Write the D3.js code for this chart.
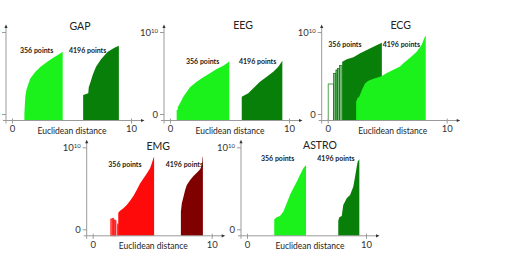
<!DOCTYPE html>
<html>
<head>
<meta charset="utf-8">
<script src="https://cdn.jsdelivr.net/npm/d3@7.9.0/dist/d3.min.js"></script>
<style>
  body { margin: 0; background: #fff; }
  svg { display: block; font-family: Lato, "Open Sans", sans-serif; }
</style>
</head>
<body>
<svg id="chart" width="510" height="258"></svg>
<script>
// [euclidean distance, value (x1e9)]
const gap356 = [[1.04,0],[1.08,1.2],[1.12,2.1],[1.21,2.93],[1.38,3.7],[1.55,4.35],[1.97,5.16],[2.40,5.77],[2.97,6.38],[3.53,6.91],[3.95,7.28],[4.26,7.6]];
const gap4196 = [[5.98,2.32],[6.41,2.52],[6.45,3.26],[6.58,3.82],[6.78,4.76],[7.06,5.77],[7.48,6.67],[8.05,7.6],[8.61,8.09],[8.98,8.33]];

const eeg356 = [[0.56,0.49],[0.64,0.49],[0.66,0.85],[0.84,1.3],[1.12,2.11],[1.68,3.26],[2.24,3.94],[2.80,4.48],[3.36,4.96],[3.92,5.49],[4.48,5.89],[4.90,6.3],[4.98,6.46]];
const eeg4196 = [[6.03,2.11],[6.30,2.32],[6.58,2.52],[7.0,3.13],[7.56,3.94],[8.13,4.55],[8.68,5.16],[9.10,5.77],[9.30,6.18],[9.44,6.5]];

// isolated first points: [from, to, value]
const ecg356Bars = [[0.04,0.49,3.66],[0.49,0.69,4.96],[0.69,0.82,5.37],[0.82,0.99,5.57],[0.99,1.22,5.9]];
const ecg356 = [[1.22,6.38],[1.61,6.67],[2.16,6.91],[2.73,7.40],[3.29,7.80],[3.84,8.2],[4.55,8.7]];
const ecg4196 = [[2.39,1.5],[2.50,1.91],[2.67,2.17],[2.87,2.93],[3.15,3.74],[3.42,4.06],[3.84,4.3],[4.26,4.48],[4.55,4.63],[4.97,5.0],[5.52,5.4],[6.08,5.8],[6.36,6.2],[6.92,6.85],[7.48,7.6],[7.9,8.45],[8.1,9.2],[8.24,9.6]];

const emg356Bars = [[1.52,1.63,1.26],[1.68,1.77,1.34],[1.77,1.88,1.13],[1.88,1.96,1.05],[2.07,2.15,0.65]];
const emg356 = [[2.15,2.02],[2.30,2.27],[2.58,2.56],[2.86,2.96],[3.14,3.49],[3.42,4.06],[3.70,4.79],[3.98,5.6],[4.26,6.21],[4.55,6.82],[4.82,7.43],[4.97,8.04],[5.1,8.65],[5.16,8.85]];
const emg4196 = [[7.41,2.15],[7.49,3.17],[7.63,3.98],[7.77,4.79],[7.91,5.4],[8.19,6.01],[8.47,6.5],[8.75,6.9],[9.03,7.32],[9.18,7.84],[9.23,8.78],[9.26,8.9]];

const astro356 = [[2.29,1.22],[2.5,1.46],[2.77,1.62],[3.05,2.15],[3.34,3.17],[3.61,4.18],[3.89,5.0],[4.18,5.8],[4.45,6.62],[4.73,7.44],[4.96,7.84]];
const astro4196 = [[7.67,1.05],[7.76,1.46],[7.96,1.62],[8.09,2.96],[8.38,3.78],[8.66,4.18],[8.93,5.2],[9.08,6.41],[9.22,7.63],[9.3,8.24],[9.44,8.54]];

const xTicks = [0, 10];
const yTicks = [0, 10];
const pointLabels = ["356 points", "4196 points"];
const xLabel = "Euclidean distance";

const lime = "#1bf21b", green = "#087f08", red = "#ff0a0a", maroon = "#800000";

// layout of the five small plots
const panels = [
  {title: "GAP",   ax: 6,     base: 114,   titleX: 74, titleDy: -84.5, xlabX: 66,
   series: [{data: gap356, color: lime}, {data: gap4196, color: green}],
   labels: [[14, -61.5], [63, -61.5]]},
  {title: "EEG",   ax: 164,   base: 114,   titleX: 79, titleDy: -85.5, xlabX: 66,
   series: [{data: eeg356, color: lime}, {data: eeg4196, color: green}],
   labels: [[22, -49.7], [75, -49.7]]},
  {title: "ECG",   ax: 321.7, base: 114,   titleX: 79, titleDy: -84.7, xlabX: 71,
   series: [{data: ecg356, bars: ecg356Bars, color: green}, {data: ecg4196, color: lime}],
   labels: [[6.6, -67.5], [61, -67.5]]},
  {title: "EMG",   ax: 86.7,  base: 229.3, titleX: 71.6, titleDy: -79.3, xlabX: 66.6,
   series: [{data: emg356, bars: emg356Bars, color: red}, {data: emg4196, color: maroon}],
   labels: [[21.6, -62.6], [79, -62.6]]},
  {title: "ASTRO", ax: 241,   base: 229.3, titleX: 79, titleDy: -80, xlabX: 69,
   series: [{data: astro356, color: lime}, {data: astro4196, color: green}],
   labels: [[20, -68.6], [76.3, -68.6]]}
];

const svg = d3.select("#chart");

function drawPanel(p) {
  const g = svg.append("g");
  const x = d3.scaleLinear().domain([0, 10]).range([p.ax + 6, p.ax + 125]);
  const y = d3.scaleLinear().domain([0, 10]).range([p.base, p.base - 82]);
  const axisY = p.base + 6.5;

  const area = d3.area()
      .x(d => x(d[0]))
      .y0(axisY)
      .y1(d => y(d[1]));

  p.series.forEach(s => {
    if (s.bars) {
      g.selectAll(null)
        .data(s.bars)
        .join("rect")
          .attr("x", d => x(d[0]))
          .attr("y", d => y(d[2]))
          .attr("width", d => x(d[1]) - x(d[0]))
          .attr("height", d => axisY - y(d[2]))
          .attr("fill", s.color)
          .attr("fill-opacity", d => x(d[1]) - x(d[0]) > 4 ? 0 : 0.55)
          .attr("stroke", s.color)
          .attr("stroke-width", 0.7);
    }
    g.append("path")
        .datum(s.data)
        .attr("d", area)
        .attr("fill", s.color);
  });

  // axis lines with small arrow heads
  g.append("line")
      .attr("x1", p.ax).attr("x2", p.ax)
      .attr("y1", axisY + 3).attr("y2", p.base - 87)
      .attr("stroke", "#9a9a9a").attr("stroke-width", 1);
  g.append("line")
      .attr("x1", p.ax - 3).attr("x2", p.ax + 136)
      .attr("y1", axisY).attr("y2", axisY)
      .attr("stroke", "#9a9a9a").attr("stroke-width", 1);
  g.append("path")
      .attr("d", `M${p.ax - 1.6},${p.base - 86}L${p.ax},${p.base - 89.5}L${p.ax + 1.6},${p.base - 86}Z`)
      .attr("fill", "#333");
  g.append("path")
      .attr("d", `M${p.ax + 135},${axisY - 1.6}L${p.ax + 138.5},${axisY}L${p.ax + 135},${axisY + 1.6}Z`)
      .attr("fill", "#333");

  const xAxis = g.append("g")
      .attr("transform", `translate(0,${axisY})`)
      .call(d3.axisBottom(x).tickValues(xTicks).tickSize(3).tickPadding(2));
  xAxis.attr("font-family", null).attr("font-size", 9.5);
  xAxis.select(".domain").remove();
  xAxis.selectAll(".tick line").attr("stroke", "#9a9a9a").attr("y1", -2);
  xAxis.selectAll(".tick text").attr("fill", "#333");

  const yAxis = g.append("g")
      .attr("transform", `translate(${p.ax},0)`)
      .call(d3.axisLeft(y).tickValues(yTicks).tickSize(4).tickPadding(2)
        .tickFormat(d => d === 0 ? "0" : ""));
  yAxis.attr("font-family", null).attr("font-size", 9.5);
  yAxis.select(".domain").remove();
  yAxis.selectAll(".tick line").attr("stroke", "#9a9a9a");
  yAxis.selectAll(".tick text").attr("fill", "#333")
    .filter(d => d === 10)
    .each(function() {
      const t = d3.select(this);
      t.append("tspan").text("10");
      t.append("tspan").attr("dy", "-0.4em").attr("font-size", 6).text("10");
    });

  g.append("text")
      .attr("x", p.ax + p.titleX)
      .attr("y", p.base + p.titleDy)
      .attr("text-anchor", "middle")
      .attr("font-size", 10.5)
      .attr("fill", "#222")
      .text(p.title);

  g.append("text")
      .attr("x", p.ax + p.xlabX)
      .attr("y", p.base + 19.5)
      .attr("text-anchor", "middle")
      .attr("font-size", 8.5)
      .attr("fill", "#222")
      .text(xLabel);

  p.labels.forEach((l, i) => {
    g.append("text")
        .attr("x", p.ax + l[0])
        .attr("y", p.base + l[1])
        .attr("font-size", 7)
        .attr("font-weight", "bold")
        .attr("fill", "#222")
        .text(pointLabels[i]);
  });
}

panels.forEach(drawPanel);
</script>
</body>
</html>
